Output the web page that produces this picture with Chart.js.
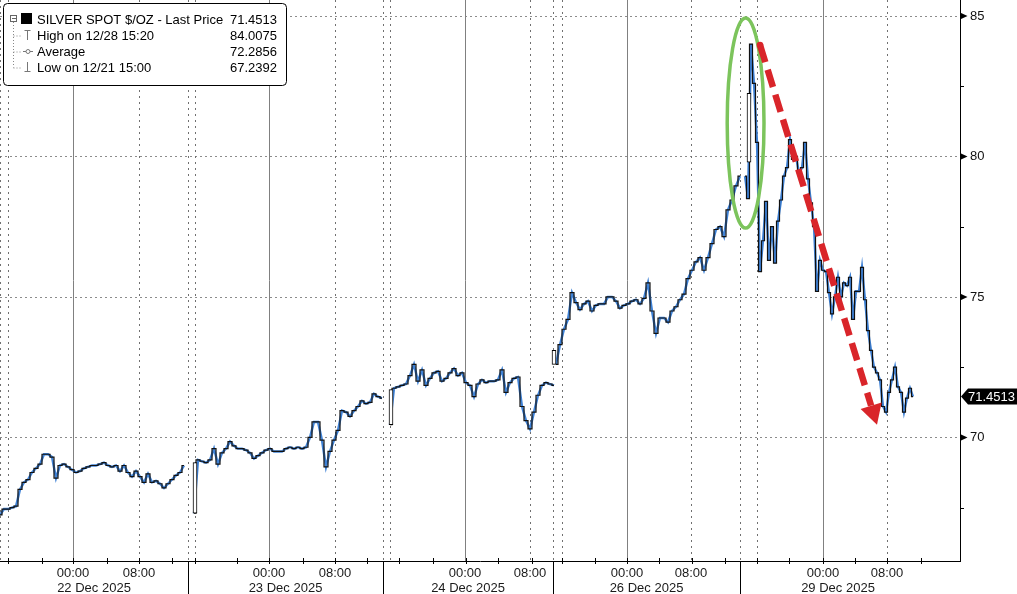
<!DOCTYPE html>
<html>
<head>
<meta charset="utf-8">
<script src="https://cdn.jsdelivr.net/npm/chart.js@4.4.1/dist/chart.umd.min.js"></script>
<style>
  html, body { margin: 0; padding: 0; background: #fff; }
  #marco { width: 1017px; height: 594px; position: relative; }
</style>
</head>
<body>
<div id="marco"><canvas id="grafico"></canvas></div>
<script>
// Eje X en barras de 30 minutos (Bloomberg comprime las horas sin mercado)
const fechas = ["22 Dec 2025", "23 Dec 2025", "24 Dec 2025", "26 Dec 2025", "29 Dec 2025"];
const limitesDia = [0, 47, 95.75, 138.25, 185, 234];
const medianoche = [18.25, 67.25, 116.25, 156.75, 205.75];
const ochoAM = [34.75, 83.75, 132.5, 172.75, 221.75];
const inicioSesion = [2, 48.75, 97.5, 140.5, 189.25];
const marcasEje = [2.1, 10.4, 18.3, 26.7, 34.8, 42.9, 48.75, 59.2, 67.25, 75.75, 83.75, 91.7,
    99.75, 108.25, 116.4, 124.5, 132.9, 140.4, 148.75, 156.7, 164.75, 172.9, 181.25,
    189.25, 197.25, 205.7, 213.75, 221.75, 230.2];
const X_MAX = 240;

const ticksY = [70, 75, 80, 85];
const ticksMenoresY = [67.5, 72.5, 77.5, 82.5];
const Y_MIN = 65.6, Y_MAX = 85.57;

// Precios por sesión: inicio (barra), paso (barras) y valores
const inicioSerie = [0, 48.5, 97.5, 139, 186.25];
const pasoSerie = [1, 1, 1, 1, 0.75];
const dia22 = [67.24, 67.45, 67.45, 67.50, 67.55, 68.15, 68.40, 68.50, 68.75, 68.90, 69.05, 69.40,
    69.40, 69.30, 68.55, 69.00, 69.05, 68.95, 68.85, 68.75, 68.80, 68.90, 68.95, 69.00, 69.00,
    69.05, 69.10, 69.00, 68.95, 69.00, 68.80, 69.00, 68.75, 68.60, 68.80, 68.60, 68.40, 68.70,
    68.40, 68.45, 68.35, 68.20, 68.35, 68.50, 68.65, 68.75, 69.00];
const dia23 = [67.30, 69.20, 69.15, 69.10, 69.20, 69.60, 69.05, 69.45, 69.60, 69.85, 69.70, 69.60,
    69.60, 69.55, 69.45, 69.25, 69.35, 69.45, 69.55, 69.60, 69.50, 69.50, 69.50, 69.60, 69.65,
    69.60, 69.65, 69.60, 69.65, 70.00, 70.55, 70.55, 69.90, 68.95, 69.50, 69.90, 70.25, 70.95,
    70.90, 70.75, 70.95, 71.10, 71.30, 71.20, 71.25, 71.55, 71.45, 71.40];
const dia24 = [70.45, 71.75, 71.80, 71.85, 71.90, 72.20, 72.60, 72.00, 72.40, 71.85, 72.10, 72.30,
    72.35, 72.00, 72.10, 72.30, 72.45, 72.20, 72.30, 71.95, 71.85, 71.45, 71.90, 72.05, 71.95,
    72.00, 72.00, 72.05, 72.40, 71.60, 71.95, 72.10, 72.15, 71.10, 70.60, 70.30, 70.90, 71.50,
    71.85, 71.95, 71.90, 71.85];
const dia26 = [72.60, 73.30, 73.85, 74.20, 75.15, 74.80, 74.55, 74.75, 74.85, 74.50, 74.70, 74.75,
    74.75, 75.00, 75.00, 74.85, 74.60, 74.70, 74.75, 74.85, 74.90, 74.75, 74.95, 75.50, 74.50,
    73.70, 74.25, 74.25, 74.10, 74.50, 74.65, 74.90, 75.10, 75.65, 75.95, 76.25, 76.40, 75.95,
    76.40, 76.90, 77.40, 77.50, 77.15, 78.10, 78.45, 78.95, 79.30];
const dia29 = [79.30, 78.50, 84.00, 82.60, 80.50, 75.90, 77.00, 78.40, 76.30, 77.50, 76.20, 77.70,
    78.45, 79.30, 79.60, 80.60, 79.90, 80.00, 79.40, 79.60, 80.50, 79.20, 78.35, 77.50, 75.20,
    76.30, 75.95, 75.90, 75.15, 74.40, 75.00, 75.70, 75.00, 75.50, 75.40, 75.70, 74.20, 75.20,
    75.20, 76.05, 74.90, 73.80, 73.10, 72.50, 72.30, 72.05, 71.10, 70.90, 71.60, 72.05, 72.50,
    71.80, 71.60, 70.90, 71.40, 71.75, 71.45];
const sesiones = [dia22, dia23, dia24, dia26, dia29];

// Velas huecas grandes
const velaX = [48.75, 97.75, 138.5, 187.25];
const velaBaja = [67.30, 70.45, 72.60, 79.80];
const velaAlta = [69.10, 71.70, 73.10, 82.25];

const ultimoPrecio = 71.4513;
const filasLeyenda = ["SILVER SPOT $/OZ - Last Price", "High on 12/28 15:20", "Average", "Low on 12/21 15:00"];
const valoresLeyenda = ["71.4513", "84.0075", "72.2856", "67.2392"];

// Anotaciones (en unidades de datos)
const elipse = {x: 186.4, y: 81.19, rx: 4.6, ry: 3.74};
const flecha = {x0: 190, y0: 83.97, x1: 219.25, y1: 70.45};

const FUENTE = '13px "Liberation Sans", Arial, sans-serif';

function construirPuntos() {
    const puntos = [];
    sesiones.forEach((precios, i) => {
        precios.forEach((p, k) => {
            puntos.push({x: inicioSerie[i] + k * pasoSerie[i], y: p});
        });
        if (i < sesiones.length - 1) {
            puntos.push({x: inicioSerie[i + 1] - 0.1, y: null});
        }
    });
    return puntos;
}

function linea(ctx, x0, y0, x1, y1) {
    ctx.beginPath();
    ctx.moveTo(x0, y0);
    ctx.lineTo(x1, y1);
    ctx.stroke();
}

const pluginBloomberg = {
    id: 'bloomberg',
    beforeDatasetsDraw(chart) {
        const {ctx, chartArea: a, scales: {x, y}} = chart;
        ctx.save();
        ctx.lineWidth = 1;
        // rejilla horizontal punteada
        ctx.strokeStyle = '#8c8c8c';
        ctx.setLineDash([2, 3]);
        ticksY.forEach(v => {
            const py = Math.round(y.getPixelForValue(v)) + 0.5;
            linea(ctx, a.left, py, a.right, py);
        });
        // rejilla vertical punteada
        ctx.strokeStyle = '#707070';
        ctx.setLineDash([2, 4]);
        const punteadas = [0].concat(inicioSesion, ochoAM, limitesDia.slice(1, 5));
        punteadas.forEach(v => {
            const px = Math.round(x.getPixelForValue(v)) + 0.5;
            linea(ctx, px, a.top, px, a.bottom);
        });
        // medianoche: línea continua gris
        ctx.setLineDash([]);
        ctx.strokeStyle = '#808080';
        medianoche.forEach(v => {
            const px = Math.round(x.getPixelForValue(v)) + 0.5;
            linea(ctx, px, a.top, px, a.bottom);
        });
        ctx.restore();
    },
    afterDatasetsDraw(chart) {
        const {ctx, scales: {x, y}} = chart;
        ctx.save();
        // elipse verde
        const cx = x.getPixelForValue(elipse.x), cy = y.getPixelForValue(elipse.y);
        const rx = x.getPixelForValue(elipse.x + elipse.rx) - cx;
        const ry = y.getPixelForValue(elipse.y - elipse.ry) - cy;
        ctx.strokeStyle = '#7cc45c';
        ctx.lineWidth = 3.5;
        ctx.beginPath();
        ctx.ellipse(cx, cy, rx, ry, 0, 0, Math.PI * 2);
        ctx.stroke();

        // flecha roja discontinua
        const x0 = x.getPixelForValue(flecha.x0), y0 = y.getPixelForValue(flecha.y0);
        const x1 = x.getPixelForValue(flecha.x1), y1 = y.getPixelForValue(flecha.y1);
        const len = Math.hypot(x1 - x0, y1 - y0);
        const ux = (x1 - x0) / len, uy = (y1 - y0) / len;
        const bx = x1 - ux * 20, by = y1 - uy * 20;
        ctx.strokeStyle = '#d9252a';
        ctx.fillStyle = '#d9252a';
        ctx.lineWidth = 6.5;
        ctx.setLineDash([18, 8]);
        linea(ctx, x0, y0, bx, by);
        ctx.setLineDash([]);
        ctx.beginPath();
        ctx.arc(x0, y0, 3.3, 0, Math.PI * 2);
        ctx.fill();
        ctx.beginPath();
        ctx.moveTo(x1, y1);
        ctx.lineTo(bx - uy * 11, by + ux * 11);
        ctx.lineTo(bx + uy * 11, by - ux * 11);
        ctx.closePath();
        ctx.fill();
        ctx.restore();
    },
    afterDraw(chart) {
        const {ctx, chartArea: a, scales: {x, y}} = chart;
        ctx.save();
        ctx.lineWidth = 1;
        ctx.strokeStyle = '#000';
        // ejes
        linea(ctx, a.right + 0.5, 0, a.right + 0.5, a.bottom + 1);
        linea(ctx, 0, a.bottom + 0.5, a.right + 1, a.bottom + 0.5);
        // marcas eje Y y triángulos
        ctx.fillStyle = '#000';
        ticksY.forEach(v => {
            const py = y.getPixelForValue(v);
            ctx.beginPath();
            ctx.moveTo(a.right, py - 3.5);
            ctx.lineTo(a.right, py + 3.5);
            ctx.lineTo(a.right + 7.5, py);
            ctx.closePath();
            ctx.fill();
        });
        ticksMenoresY.forEach(v => {
            const py = Math.round(y.getPixelForValue(v)) + 0.5;
            linea(ctx, a.right, py, a.right + 4, py);
        });
        // marcas eje X
        marcasEje.forEach(v => {
            const px = Math.round(x.getPixelForValue(v)) + 0.5;
            linea(ctx, px, a.bottom - 3, px, a.bottom + 3);
        });
        // separadores de día
        limitesDia.slice(1, 5).forEach(v => {
            const px = Math.round(x.getPixelForValue(v)) + 0.5;
            linea(ctx, px, a.bottom, px, chart.height);
        });
        // etiquetas de hora y fecha
        ctx.font = FUENTE;
        ctx.fillStyle = '#1a1a1a';
        ctx.textAlign = 'center';
        ctx.textBaseline = 'middle';
        medianoche.forEach(v => ctx.fillText("00:00", x.getPixelForValue(v), a.bottom + 12));
        ochoAM.forEach(v => ctx.fillText("08:00", x.getPixelForValue(v), a.bottom + 12));
        fechas.forEach((f, i) => {
            const centro = (limitesDia[i] + limitesDia[i + 1]) / 2;
            ctx.fillText(f, x.getPixelForValue(centro), a.bottom + 27);
        });

        // etiqueta del último precio
        const py = y.getPixelForValue(ultimoPrecio);
        ctx.fillStyle = '#000';
        ctx.beginPath();
        ctx.moveTo(a.right + 1, py);
        ctx.lineTo(a.right + 8, py - 8);
        ctx.lineTo(chart.width, py - 8);
        ctx.lineTo(chart.width, py + 8);
        ctx.lineTo(a.right + 8, py + 8);
        ctx.closePath();
        ctx.fill();
        ctx.fillStyle = '#fff';
        ctx.textAlign = 'left';
        ctx.fillText(ultimoPrecio.toFixed(4), a.right + 8, py + 0.5);

        dibujarLeyenda(ctx);
        ctx.restore();
    }
};

function dibujarLeyenda(ctx) {
    ctx.save();
    ctx.fillStyle = '#fff';
    ctx.strokeStyle = '#000';
    ctx.lineWidth = 1;
    ctx.beginPath();
    ctx.roundRect(3.5, 3.5, 283, 82, 4);
    ctx.fill();
    ctx.stroke();

    const filaY = [19.5, 35.5, 51.5, 67.5];
    // árbol punteado
    ctx.strokeStyle = '#888';
    ctx.setLineDash([1, 2]);
    linea(ctx, 13.5, 22, 13.5, filaY[3]);
    filaY.slice(1).forEach(fy => linea(ctx, 13.5, fy + 0.5, 21, fy + 0.5));
    ctx.setLineDash([]);
    ctx.strokeStyle = '#666';
    ctx.strokeRect(10.5, 15.5, 6, 6);
    linea(ctx, 12, 18.5, 16, 18.5);
    ctx.fillStyle = '#000';
    ctx.fillRect(21, 13, 11, 11);

    // iconos grises
    ctx.strokeStyle = '#777';
    linea(ctx, 27.5, 30, 27.5, 40);
    linea(ctx, 24.5, 30.5, 30.5, 30.5);
    linea(ctx, 23, 51.5, 33, 51.5);
    ctx.beginPath();
    ctx.arc(28, 51.5, 2, 0, Math.PI * 2);
    ctx.fillStyle = '#fff';
    ctx.fill();
    ctx.stroke();
    linea(ctx, 27.5, 62, 27.5, 72);
    linea(ctx, 24.5, 71.5, 30.5, 71.5);

    ctx.font = FUENTE;
    ctx.fillStyle = '#000';
    ctx.textBaseline = 'middle';
    filasLeyenda.forEach((t, i) => {
        ctx.textAlign = 'left';
        ctx.fillText(t, 37, filaY[i] + 0.5);
        ctx.textAlign = 'right';
        ctx.fillText(valoresLeyenda[i], 277, filaY[i] + 0.5);
    });
    ctx.restore();
}

document.addEventListener("DOMContentLoaded", function () {
    const puntos = construirPuntos();
    const velas = velaX.map((vx, i) => ({x: vx, y: [velaBaja[i], velaAlta[i]]}));

    new Chart(document.getElementById("grafico"), {
        type: "line",
        data: {
            datasets: [{
                label: "Velas",
                type: "bar",
                data: velas,
                backgroundColor: "#fff",
                borderColor: "#000",
                borderWidth: 1,
                borderSkipped: false,
                barThickness: 4,
                grouped: false,
                order: 1
            }, {
                label: "Silver",
                data: puntos,
                borderColor: "#111",
                borderWidth: 1.2,
                stepped: "middle",
                pointRadius: 0,
                spanGaps: false,
                order: 2
            }, {
                label: "Silver azul",
                data: puntos,
                borderColor: "#3f82d6",
                borderWidth: 2.4,
                pointRadius: 0,
                spanGaps: false,
                order: 3
            }]
        },
        options: {
            responsive: true,
            maintainAspectRatio: false,
            animation: false,
            devicePixelRatio: 1,
            layout: {padding: {top: 0, left: 0, right: 0, bottom: 33}},
            plugins: {legend: {display: false}, tooltip: {enabled: false}},
            scales: {
                x: {
                    type: "linear",
                    min: 0,
                    max: X_MAX,
                    offset: false,
                    display: false
                },
                y: {
                    position: "right",
                    min: Y_MIN,
                    max: Y_MAX,
                    grid: {display: false, drawTicks: false},
                    border: {display: false},
                    afterBuildTicks: scale => {
                        scale.ticks = ticksY.map(v => ({value: v}));
                    },
                    afterFit: scale => {
                        scale.width = 57;
                        scale.paddingTop = 0;
                        scale.paddingBottom = 0;
                    },
                    ticks: {
                        padding: 10,
                        color: "#111",
                        font: {family: '"Liberation Sans", Arial, sans-serif', size: 13},
                        callback: v => String(v)
                    }
                }
            }
        },
        plugins: [pluginBloomberg]
    });
});
</script>
</body>
</html>
